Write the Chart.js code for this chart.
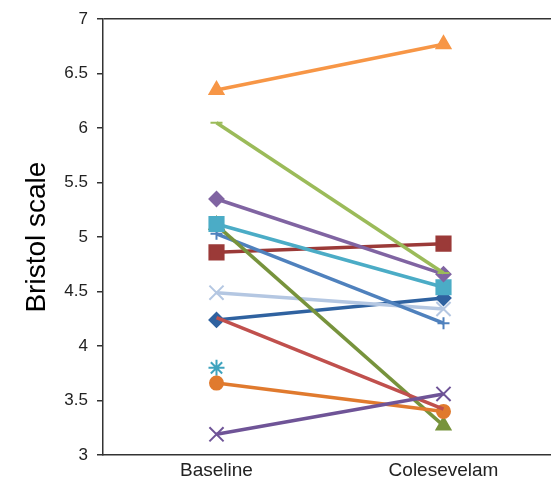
<!DOCTYPE html>
<html>
<head>
<meta charset="utf-8">
<script src="https://cdn.jsdelivr.net/npm/chart.js@4.4.0/dist/chart.umd.min.js"></script>
<style>
  html, body { margin: 0; padding: 0; background: #fff; overflow: hidden; width: 551px; height: 482px; }
  #wrap { width: 569px; height: 482px; }
</style>
</head>
<body>
<div id="wrap"><canvas id="bristolChart" width="569" height="482"></canvas></div>
<script>
// time points on the x axis
var periodos = ['Baseline', 'Colesevelam'];
var yTicks = [3, 3.5, 4, 4.5, 5, 5.5, 6, 6.5, 7];

// one pair of values per patient (baseline, colesevelam)
var pac1 = [6.35, 6.77];
var pac2 = [6.05, 4.67];
var pac3 = [5.35, 4.66];
var pac4 = [5.12, 4.54];
var pac5 = [5.11, 3.27];
var pac6 = [5.03, 4.21];
var pac7 = [4.86, 4.94];
var pac8 = [4.49, 4.34];
var pac9 = [4.24, 4.44];
var pac10 = [4.26, 3.42];
var pac11 = [3.80, null];
var pac12 = [3.66, 3.40];
var pac13 = [3.19, 3.56];

function serie(valores, color, estilo, radio) {
  return {
    data: valores,
    borderColor: color,
    backgroundColor: color,
    pointBackgroundColor: color,
    pointBorderColor: color,
    pointStyle: estilo,
    pointRadius: radio,
    pointBorderWidth: 2,
    borderWidth: 3.5,
    tension: 0,
    spanGaps: false
  };
}

const ctx = document.getElementById('bristolChart');
const myChart = new Chart(ctx, {
  type: 'line',
  data: {
    labels: periodos,
    datasets: [
      serie(pac1, '#F79646', 'triangle', 8),
      serie(pac13, '#6F5497', 'crossRot', 10),
      serie(pac10, '#C0504D', 'circle', 0),
      serie(pac12, '#E07A2E', 'circle', 6.5),
      serie(pac2, '#9BBB59', 'line', 6),
      serie(pac3, '#8064A2', 'rectRot', 7),
      serie(pac4, '#4BACC6', 'rect', 10),
      serie(pac5, '#77933C', 'triangle', 8),
      serie(pac6, '#4F81BD', 'cross', 6),
      serie(pac7, '#9B3A38', 'rect', 10),
      serie(pac8, '#B4C7E2', 'crossRot', 10),
      serie(pac9, '#2F62A0', 'rectRot', 7),
      serie(pac11, '#3FA3BE', 'star', 8)
    ]
  },
  options: {
    responsive: false,
    animation: false,
    layout: { padding: { top: 18, left: 0, right: 0, bottom: 0 } },
    plugins: {
      legend: { display: false },
      tooltip: { enabled: false }
    },
    scales: {
      x: {
        offset: true,
        grid: { display: false, drawTicks: false },
        border: { color: '#333', width: 1.5 },
        ticks: {
          color: '#222',
          padding: 4,
          font: { family: 'Liberation Sans, Arial, sans-serif', size: 19 }
        },
        afterFit: function(scale) { scale.height = 27; }
      },
      y: {
        min: 3,
        max: 7,
        afterBuildTicks: function(scale) {
          scale.ticks = yTicks.map(v => ({ value: v }));
        },
        border: { color: '#333', width: 1.5 },
        grid: {
          drawOnChartArea: true,
          color: function(c) { return c.tick && c.tick.value === 7 ? '#333' : 'rgba(0,0,0,0)'; },
          lineWidth: 1.5,
          tickColor: '#333',
          tickLength: 6,
          tickWidth: 1.5
        },
        ticks: {
          color: '#222',
          padding: 9,
          font: { family: 'Liberation Sans, Arial, sans-serif', size: 17 },
          callback: function(v) { return String(v); }
        },
        title: {
          display: true,
          text: 'Bristol scale',
          color: '#000',
          padding: { top: 20, bottom: 0 },
          font: { family: 'Liberation Sans, Arial, sans-serif', size: 28 }
        },
        afterFit: function(scale) { scale.width = 103; }
      }
    }
  }
});
</script>
</body>
</html>
